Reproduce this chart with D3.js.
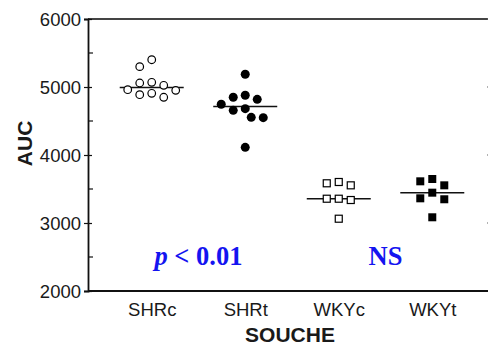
<!DOCTYPE html>
<html>
<head>
<meta charset="utf-8">
<script src="https://cdn.jsdelivr.net/npm/d3@7"></script>
<style>
  html, body { margin: 0; padding: 0; background: #fff; }
  svg { display: block; }
  text { font-family: "Liberation Sans", Arial, sans-serif; fill: #1a1a1a; }
</style>
</head>
<body>
<div id="chart"></div>
<script>
// groups on the x axis
const categories = ["SHRc", "SHRt", "WKYc", "WKYt"];
// AUC values per group
const shrcValues = [5401, 5299, 5069, 5059, 5025, 4960, 4951, 4907, 4887, 4849];
const shrtValues = [5187, 4878, 4849, 4819, 4746, 4681, 4657, 4554, 4549, 4113];
const wkycValues = [3603, 3584, 3554, 3357, 3357, 3338, 3063];
const wkytValues = [3647, 3613, 3554, 3446, 3363, 3349, 3084];
const yTicks = [2000, 3000, 4000, 5000, 6000];
const yMinorTicks = [2500, 3500, 4500, 5500];
const statLabels = ["p < 0.01", "NS"];
const statPairs = [["SHRc", "SHRt"], ["WKYc", "WKYt"]];
const statLevel = 2380;

const seriesValues = [shrcValues, shrtValues, wkycValues, wkytValues];
const symbols = {
    SHRc: { shape: "circle", filled: false },
    SHRt: { shape: "circle", filled: true },
    WKYc: { shape: "square", filled: false },
    WKYt: { shape: "square", filled: true }
};

const width = 488, height = 350;
const margin = { top: 19, left: 88, bottom: 59, right: 0 };
const plotRight = 492;

const svg = d3.select("#chart").append("svg")
    .attr("width", width)
    .attr("height", height);

const y = d3.scaleLinear()
    .domain([2000, 6000])
    .range([height - margin.bottom, margin.top]);

const x = d3.scalePoint()
    .domain(categories)
    .range([90, 494])
    .padding(0.66);

// frame: top and right borders
svg.append("line")
    .attr("x1", margin.left).attr("x2", plotRight)
    .attr("y1", y(6000)).attr("y2", y(6000))
    .attr("stroke", "#444").attr("stroke-width", 2);

svg.append("line")
    .attr("x1", plotRight).attr("x2", plotRight)
    .attr("y1", y(6000)).attr("y2", y(2000))
    .attr("stroke", "#444").attr("stroke-width", 2);

svg.append("g")
    .selectAll("line")
    .data(yTicks)
    .enter().append("line")
    .attr("x1", plotRight - 5).attr("x2", plotRight + 5)
    .attr("y1", (d) => y(d)).attr("y2", (d) => y(d))
    .attr("stroke", "#666").attr("stroke-width", 1.2);

// left axis
const yAxis = svg.append("g")
    .attr("transform", `translate(${margin.left},0)`)
    .call(d3.axisLeft(y).tickValues(yTicks).tickSize(4).tickPadding(3).tickFormat(d3.format("d")));
yAxis.select(".domain").attr("stroke", "#111").attr("stroke-width", 1.8);
yAxis.selectAll(".tick line").attr("x2", 4).attr("x1", -4).attr("stroke", "#111").attr("stroke-width", 1.2);
yAxis.selectAll(".tick text")
    .style("font-family", "Liberation Sans, Arial, sans-serif")
    .style("font-size", "18.5px")
    .attr("fill", "#1a1a1a")
    .attr("dy", "0.36em");

svg.append("g")
    .selectAll("line")
    .data(yMinorTicks)
    .enter().append("line")
    .attr("x1", margin.left).attr("x2", margin.left + 5)
    .attr("y1", (d) => y(d)).attr("y2", (d) => y(d))
    .attr("stroke", "#111").attr("stroke-width", 1.2);

// bottom axis
const xAxis = svg.append("g")
    .attr("transform", `translate(0,${y(2000)})`)
    .call(d3.axisBottom(x).tickSize(0).tickPadding(12));
xAxis.select(".domain").attr("d", `M${margin.left},0H${plotRight}`).attr("stroke", "#111").attr("stroke-width", 2);
xAxis.selectAll(".tick text")
    .style("font-family", "Liberation Sans, Arial, sans-serif")
    .style("font-size", "18.5px")
    .attr("fill", "#1a1a1a");

// axis titles
svg.append("text")
    .attr("x", (margin.left + plotRight) / 2)
    .attr("y", 342)
    .attr("text-anchor", "middle")
    .style("font-size", "21px")
    .style("font-weight", "bold")
    .text("SOUCHE");

svg.append("text")
    .attr("transform", `translate(32,${y(4170)}) rotate(-90)`)
    .attr("text-anchor", "middle")
    .style("font-size", "21px")
    .style("font-weight", "bold")
    .text("AUC");

// greedy swarm layout, offsets in pixel steps around the group centre
function swarm(values, cx, step, minDist) {
    const placed = [];
    const order = [0, -1, 1, -2, 2, -3, 3, -4, 4, -5, 5];
    values.forEach((v) => {
        const py = y(v);
        for (const k of order) {
            const px = cx + k * step;
            const hit = placed.some((p) => Math.hypot(p.x - px, p.y - py) < minDist);
            if (!hit) { placed.push({ x: px, y: py, v }); break; }
        }
    });
    return placed;
}

const groups = svg.append("g");
categories.forEach((cat, i) => {
    const vals = seriesValues[i];
    const sym = symbols[cat];
    const cx = x(cat);
    const pts = swarm(vals, cx, 6, 10);
    const g = groups.append("g");

    g.append("line")
        .attr("x1", cx - 32).attr("x2", cx + 32)
        .attr("y1", y(d3.median(vals))).attr("y2", y(d3.median(vals)))
        .attr("stroke", "#111").attr("stroke-width", 1.5);

    if (sym.shape === "circle") {
        g.selectAll("circle")
            .data(pts)
            .enter().append("circle")
            .attr("cx", (d) => d.x)
            .attr("cy", (d) => d.y)
            .attr("r", sym.filled ? 4.5 : 3.8)
            .attr("fill", sym.filled ? "#000" : "#fff")
            .attr("stroke", "#000")
            .attr("stroke-width", sym.filled ? 0 : 1.2);
    } else {
        const s = sym.filled ? 8 : 7;
        g.selectAll("rect")
            .data(pts)
            .enter().append("rect")
            .attr("x", (d) => d.x - s / 2)
            .attr("y", (d) => d.y - s / 2)
            .attr("width", s)
            .attr("height", s)
            .attr("fill", sym.filled ? "#000" : "#fff")
            .attr("stroke", "#000")
            .attr("stroke-width", sym.filled ? 0 : 1.2);
    }
});

// significance labels
const stat = svg.append("g");
statLabels.forEach((label, i) => {
    const [a, b] = statPairs[i];
    const t = stat.append("text")
        .attr("x", (x(a) + x(b)) / 2)
        .attr("y", y(statLevel))
        .attr("text-anchor", "middle")
        .style("font-family", "Liberation Serif, 'Times New Roman', serif")
        .style("font-size", "26.5px")
        .style("font-weight", "bold")
        .style("fill", "#1414f0");
    if (label.startsWith("p ")) {
        t.append("tspan").style("font-style", "italic").style("fill", "#1414f0").text("p");
        t.append("tspan").style("fill", "#1414f0").text(label.slice(1));
    } else {
        t.text(label);
    }
});
</script>
</body>
</html>
